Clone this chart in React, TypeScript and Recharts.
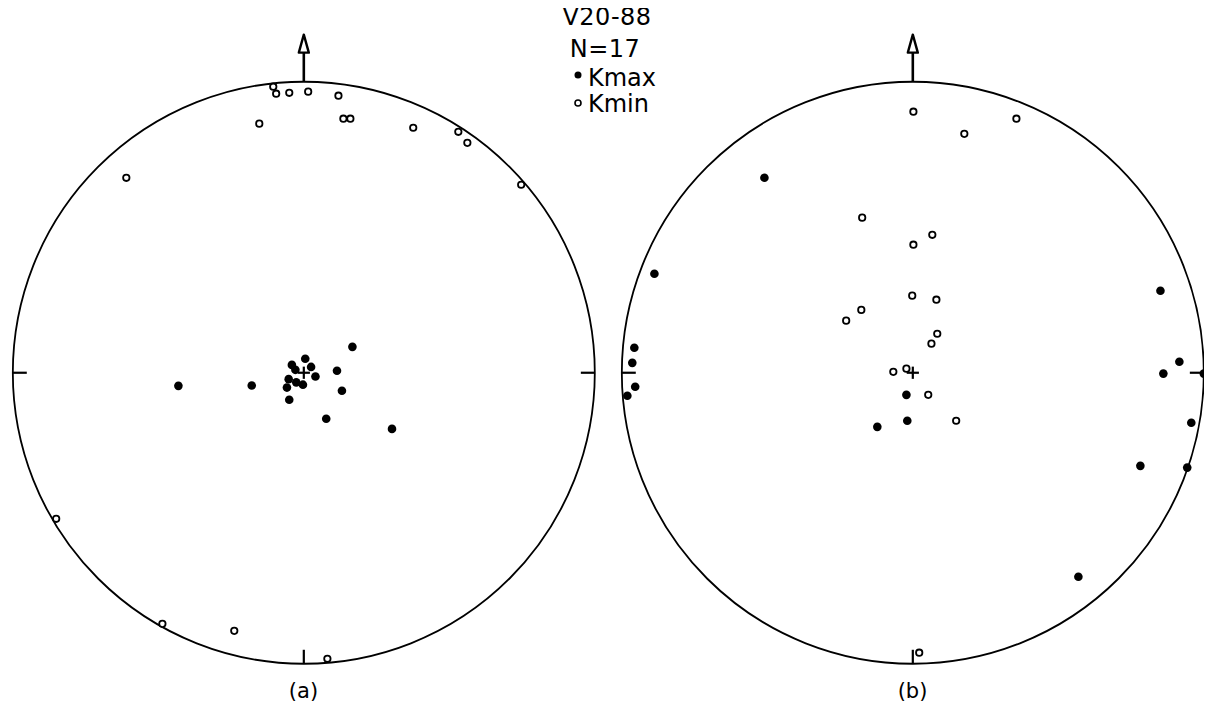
import React from 'react';
import { ScatterChart, Scatter, XAxis, YAxis, ReferenceArea, ReferenceLine, ReferenceDot } from 'recharts';

// Normalised stereonet coordinates (unit = net radius)
const kminA = [
  { x: -0.105, y: 0.983 }, { x: -0.095, y: 0.959 }, { x: -0.05, y: 0.962 }, { x: 0.015, y: 0.966 },
  { x: 0.119, y: 0.952 }, { x: -0.153, y: 0.856 }, { x: 0.136, y: 0.873 }, { x: 0.16, y: 0.873 },
  { x: 0.376, y: 0.842 }, { x: 0.531, y: 0.828 }, { x: 0.562, y: 0.79 }, { x: -0.61, y: 0.67 },
  { x: 0.747, y: 0.646 }, { x: -0.851, y: -0.502 }, { x: -0.486, y: -0.863 }, { x: -0.239, y: -0.887 },
  { x: 0.081, y: -0.983 },
];
const kmaxA = [
  { x: 0.167, y: 0.089 }, { x: 0.005, y: 0.048 }, { x: -0.041, y: 0.027 }, { x: -0.029, y: 0.01 },
  { x: 0.025, y: 0.02 }, { x: 0.114, y: 0.007 }, { x: 0.04, y: -0.013 }, { x: -0.052, y: -0.022 },
  { x: -0.026, y: -0.033 }, { x: -0.003, y: -0.041 }, { x: -0.058, y: -0.051 }, { x: -0.179, y: -0.044 },
  { x: 0.131, y: -0.062 }, { x: -0.05, y: -0.093 }, { x: 0.077, y: -0.158 }, { x: 0.303, y: -0.193 },
  { x: -0.431, y: -0.045 },
];
const kminB = [
  { x: 0.002, y: 0.897 }, { x: 0.356, y: 0.873 }, { x: 0.177, y: 0.821 }, { x: -0.174, y: 0.533 },
  { x: 0.067, y: 0.474 }, { x: 0.002, y: 0.44 }, { x: -0.002, y: 0.265 }, { x: 0.081, y: 0.251 },
  { x: -0.177, y: 0.216 }, { x: -0.229, y: 0.179 }, { x: 0.084, y: 0.134 }, { x: 0.064, y: 0.1 },
  { x: -0.067, y: 0.003 }, { x: -0.022, y: 0.014 }, { x: 0.053, y: -0.076 }, { x: 0.149, y: -0.165 },
  { x: 0.022, y: -0.962 },
];
const kmaxB = [
  { x: -0.51, y: 0.67 }, { x: -0.888, y: 0.34 }, { x: 0.851, y: 0.282 }, { x: -0.957, y: 0.086 },
  { x: -0.964, y: 0.034 }, { x: 0.916, y: 0.038 }, { x: 0.861, y: -0.003 }, { x: 1.0, y: -0.003 },
  { x: -0.954, y: -0.048 }, { x: -0.981, y: -0.079 }, { x: -0.022, y: -0.076 }, { x: -0.019, y: -0.165 },
  { x: -0.122, y: -0.186 }, { x: 0.957, y: -0.172 }, { x: 0.782, y: -0.32 }, { x: 0.943, y: -0.326 },
  { x: 0.569, y: -0.701 },
];

const titleLines = ['V20-88', 'N=17'];
const legendLabels = ['Kmax', 'Kmin'];
const panelLabels = ['(a)', '(b)'];

const K = 291; // px per unit radius
const XP = 1.02;
const YTOP = 1.25;
const YBOT = -1.2;
const W = 2 * XP * K;
const H = (YTOP - YBOT) * K;
const FONT = '"DejaVu Sans", sans-serif';

const filled = (p: any) => <circle cx={p.cx} cy={p.cy} r={4.3} fill="#000" />;
const open = (p: any) => <circle cx={p.cx} cy={p.cy} r={3.2} fill="#fff" stroke="#000" strokeWidth={1.8} />;
const netShape = (p: any) => (
  <ellipse cx={p.x + p.width / 2} cy={p.y + p.height / 2} rx={p.width / 2} ry={p.height / 2} fill="none" stroke="#000" strokeWidth={1.8} />
);
const arrowHead = (p: any) => (
  <polygon points={`${p.cx},${p.cy - 18} ${p.cx - 5},${p.cy} ${p.cx + 5},${p.cy}`} fill="#fff" stroke="#000" strokeWidth={2.4} strokeLinejoin="round" />
);

function Net({ kmax, kmin }: { kmax: { x: number; y: number }[]; kmin: { x: number; y: number }[] }) {
  const tick = 0.048;
  const arm = 0.021;
  return (
    <ScatterChart width={W} height={H} margin={{ top: 0, right: 0, bottom: 0, left: 0 }}>
      <XAxis type="number" dataKey="x" domain={[-XP, XP]} hide allowDataOverflow />
      <YAxis type="number" dataKey="y" domain={[YBOT, YTOP]} hide allowDataOverflow />
      <ReferenceArea x1={-1} x2={1} y1={-1} y2={1} shape={netShape} ifOverflow="visible" />
      <ReferenceLine segment={[{ x: -1, y: 0 }, { x: -1 + tick, y: 0 }]} stroke="#000" strokeWidth={2.2} />
      <ReferenceLine segment={[{ x: 1, y: 0 }, { x: 1 - tick, y: 0 }]} stroke="#000" strokeWidth={2.2} />
      <ReferenceLine segment={[{ x: 0, y: -1 }, { x: 0, y: -1 + tick }]} stroke="#000" strokeWidth={2.2} />
      <ReferenceLine segment={[{ x: 0, y: 1 }, { x: 0, y: 1.105 }]} stroke="#000" strokeWidth={2.6} ifOverflow="visible" />
      <ReferenceDot x={0} y={1.1} shape={arrowHead} ifOverflow="visible" />
      <ReferenceLine segment={[{ x: -arm, y: 0 }, { x: arm, y: 0 }]} stroke="#000" strokeWidth={2.2} />
      <ReferenceLine segment={[{ x: 0, y: -arm }, { x: 0, y: arm }]} stroke="#000" strokeWidth={2.2} />
      <Scatter data={kmin} shape={open} isAnimationActive={false} />
      <Scatter data={kmax} shape={filled} isAnimationActive={false} />
    </ScatterChart>
  );
}

// page-space layout (root is offset by the 8px body margin)
const centerA = { x: 303.5, y: 373 };
const centerB = { x: 912.5, y: 373 };

export default function App() {
  const place = (c: { x: number; y: number }) => ({
    position: 'absolute' as const,
    left: c.x - 8 - XP * K,
    top: c.y - 8 - YTOP * K,
  });
  return (
    <div style={{ position: 'relative', width: 1196, height: 712, background: '#fff' }}>
      <div style={place(centerA)}>
        <Net kmax={kmaxA} kmin={kminA} />
      </div>
      <div style={place(centerB)}>
        <Net kmax={kmaxB} kmin={kminB} />
      </div>
      <svg width={1212} height={728} style={{ position: 'absolute', left: -8, top: -8, pointerEvents: 'none', overflow: 'visible' }}>
        <g fontFamily={FONT} fill="#000">
          <text x={607} y={25} fontSize={24} textAnchor="middle" letterSpacing={0.5}>{titleLines[0]}</text>
          <text x={605} y={57} fontSize={24} textAnchor="middle" letterSpacing={0.5}>{titleLines[1]}</text>
          <circle cx={578} cy={75} r={3.5} fill="#000" />
          <text x={588} y={86} fontSize={24}>{legendLabels[0]}</text>
          <circle cx={578} cy={103} r={3} fill="#fff" stroke="#000" strokeWidth={1.6} />
          <text x={588} y={112} fontSize={24}>{legendLabels[1]}</text>
          <text x={centerA.x} y={698} fontSize={21} textAnchor="middle">{panelLabels[0]}</text>
          <text x={centerB.x} y={698} fontSize={21} textAnchor="middle">{panelLabels[1]}</text>
        </g>
      </svg>
    </div>
  );
}
